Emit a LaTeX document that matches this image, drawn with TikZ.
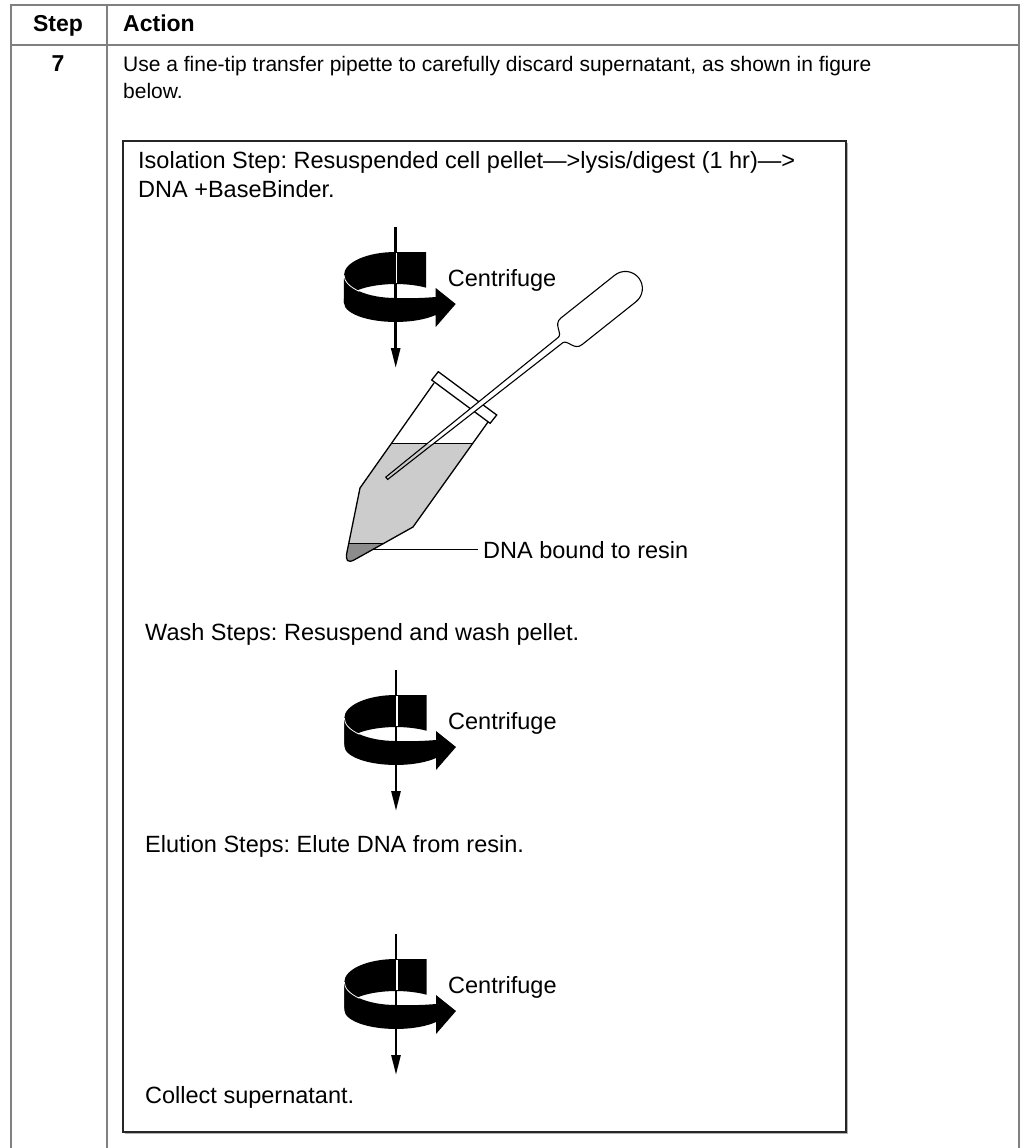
\documentclass[tikz,border=0pt]{standalone}
\usepackage{fontspec}
\setmainfont{Liberation Sans}
\frenchspacing
\usetikzlibrary{arrows.meta, positioning}

\begin{document}
\begin{tikzpicture}[
    x=1pt, y=-1pt,
    rule/.style={draw=black!50, line width=2pt},
    tabtext/.style={font=\fontsize{21}{27}\selectfont, inner sep=0pt, anchor=base west},
    headtext/.style={font=\fontsize{23}{27}\selectfont\bfseries, inner sep=0pt, anchor=base west},
    figtext/.style={font=\fontsize{23.5}{29}\selectfont, inner sep=0pt, anchor=base west},
    outline/.style={draw=black, line width=1.3pt},
    liquid/.style={fill=black!20},
    resin/.style={fill=black!45},
    rotor/.pic={
        \draw[line width=2.6pt, -{Triangle[length=20pt, width=9pt]}] (0,-63) -- (0,78);
        \fill (-51.7,-15) arc[start angle=180, end angle=270, x radius=51.7, y radius=23]
            -- (30.5,-38) -- (30.5,-2.3)
            arc[start angle=306.2, end angle=180, x radius=51.7, y radius=19] -- cycle;
        \draw[white, line width=1.2pt] (1,-37) -- (1,-7);
        \fill (-51.7,-15) arc[start angle=180, end angle=90, x radius=51.7, y radius=23]
            .. controls (15,8.5) and (28,8) .. (40,7)
            -- (40,-2) -- (60,14) -- (40,37) -- (40,25)
            arc[start angle=39.3, end angle=180, x radius=51.7, y radius=19] -- cycle;
        \draw[white, line width=0.8pt] (-51.7,-15) arc[start angle=180, end angle=135, x radius=51.7, y radius=23];
        \node[figtext] (-label) at (52,-4) {Centrifuge};
    }
]

\useasboundingbox (0,0) rectangle (1021,1148);

\draw[rule] (11,1148) -- (11,5) -- (1019,5) -- (1019,1148);
\draw[rule] (11,45) -- (1019,45);
\draw[rule] (107,5) -- (107,1148);

\node[headtext, anchor=base] (hstep) at (58,31.5) {Step};
\node[headtext] (haction) at (123,31.5) {Action};
\node[headtext, anchor=base] (stepno) at (58,71) {7};
\node[tabtext] (instr) at (123,71) {Use a fine-tip transfer pipette to carefully discard supernatant, as shown in figure};
\node[tabtext] (instrb) at (123,98) {below.};

\draw[black!30, line width=1.2pt] (125,1133.5) -- (847.5,1133.5) -- (847.5,143);
\draw[black!85, line width=1.4pt] (123,141) rectangle (846,1132);

\node[figtext] (iso) at (138,168.5) {Isolation Step: Resuspended cell pellet—>lysis/digest (1 hr)—>};
\node[figtext] (isob) at (138,197.5) {DNA +BaseBinder.};

\pic (spinA) at (395.7,290) {rotor};

\begin{scope}
    \clip (434,383) -- (360,488) -- (347,552) .. controls (345,561) and (348,563) .. (354,560) -- (413,527) -- (488,422) -- cycle;
    \fill[white] (330,370) rectangle (500,570);
    \fill[liquid] (330,443) rectangle (500,570);
    \fill[resin] (330,543) rectangle (500,570);
    \draw[line width=1pt] (330,443) -- (500,443) (330,543) -- (500,543);
\end{scope}
\draw[outline] (434,383) -- (360,488) -- (347,552) .. controls (345,561) and (348,563) .. (354,560) -- (413,527) -- (488,422);
\draw[outline, fill=white] (431.7,380) -- (438.3,371.7) -- (496.7,415) -- (490.1,423.3) -- cycle;

\begin{scope}
    \clip (300,200) rectangle (700,443);
    \fill[white, shift={(386.7,478.3)}, rotate=38.5] (0,-1.5) -- (222,-3.5) .. controls (228,-3.5) and (226,-17) .. (236,-17) -- (305,-17) arc[start angle=-90, end angle=90, radius=17] -- (236,17) .. controls (226,17) and (228,3.5) .. (222,3.5) -- (0,1.5) -- cycle;
\end{scope}
\draw[outline, line width=1.1pt, shift={(386.7,478.3)}, rotate=38.5] (0,-1.5) -- (222,-3.5) .. controls (228,-3.5) and (226,-17) .. (236,-17) -- (305,-17) arc[start angle=-90, end angle=90, radius=17] -- (236,17) .. controls (226,17) and (228,3.5) .. (222,3.5) -- (0,1.5) -- cycle;

\coordinate (resinpt) at (372,550);
\node[figtext] (resinlbl) at (483,558) {DNA bound to resin};
\draw[line width=1.1pt, shorten >=5pt] (resinpt |- resinlbl.west) -- (resinlbl.west);

\node[figtext] (wash) at (145,640) {Wash Steps: Resuspend and wash pellet.};
\pic (spinB) at (396,733) {rotor};

\node[figtext] (elute) at (145,852) {Elution Steps: Elute DNA from resin.};
\pic (spinC) at (396,997) {rotor};

\node[figtext] (collect) at (145,1103) {Collect supernatant.};

\end{tikzpicture}
\end{document}
